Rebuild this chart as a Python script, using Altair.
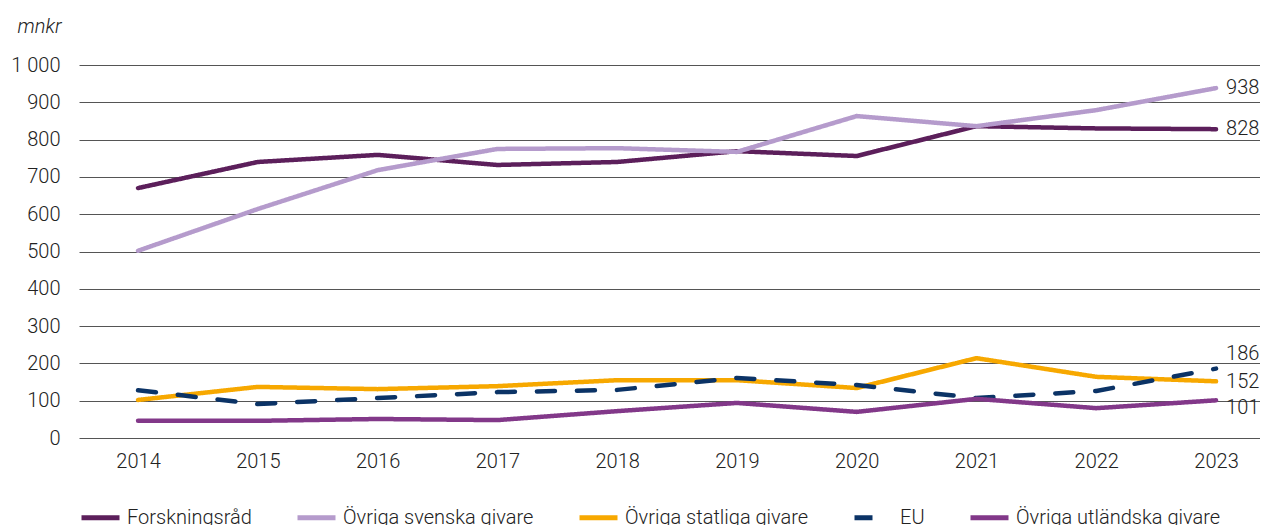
import altair as alt
import pandas as pd

years = [2014, 2015, 2016, 2017, 2018, 2019, 2020, 2021, 2022, 2023]
series_names = ["Forskningsråd", "Övriga svenska givare", "Övriga statliga givare", "EU", "Övriga utländska givare"]

forskningsrad = [670, 740, 759, 732, 740, 769, 756, 836, 830, 828]
ovriga_svenska = [502, 614, 718, 775, 777, 767, 863, 836, 879, 938]
ovriga_statliga = [102, 137, 131, 139, 155, 155, 134, 214, 164, 152]
eu = [128, 91, 107, 123, 129, 161, 142, 107, 126, 186]
ovriga_utlandska = [46, 46, 51, 48, 72, 94, 70, 105, 80, 101]

y_ticks = [0, 100, 200, 300, 400, 500, 600, 700, 800, 900, 1000]

colors = ["#5c1f5b", "#b59bcc", "#f7a800", "#0b3366", "#823889"]
dashes = [[1, 0], [1, 0], [1, 0], [18, 22], [1, 0]]
# vertical nudges (px) of the end-of-line value labels
end_label_dy = {"Forskningsråd": 0, "Övriga svenska givare": 0, "Övriga statliga givare": 1,
                "EU": -15, "Övriga utländska givare": 8}

values = [forskningsrad, ovriga_svenska, ovriga_statliga, eu, ovriga_utlandska]
rows = []
for name, vals in zip(series_names, values):
    for yr, v in zip(years, vals):
        rows.append({"year": yr, "value": v, "series": name})
df = pd.DataFrame(rows)
last = df[df["year"] == years[-1]]

FONT = "Roboto"
FW = 300
FS = 20
TXT = "#222222"

x_enc = alt.X("year:Q",
              scale=alt.Scale(domain=[2013.507, 2023.367], nice=False, zero=False),
              axis=alt.Axis(values=years, format="d", title=None, grid=False, domain=False,
                            ticks=False, labelPadding=13, labelFontSize=FS, labelColor=TXT,
                            labelFont=FONT, labelFontWeight=FW, labelOverlap=False))
y_enc = alt.Y("value:Q",
              scale=alt.Scale(domain=[0, 1000], nice=False),
              axis=alt.Axis(values=y_ticks, tickCount=11, title="mnkr", titleAngle=0, titleAlign="right",
                            titleBaseline="middle", titleX=-18, titleY=-39,
                            titleFontStyle="italic", titleFontWeight=FW, titleFontSize=FS,
                            titleColor=TXT, titleFont=FONT,
                            labelExpr="replace(format(datum.value, ','), ',', ' ')",
                            labelOverlap=False,
                            labelPadding=19, labelFontSize=FS, labelColor=TXT, labelFont=FONT,
                            labelFontWeight=FW,
                            grid=True, gridColor="#555555", gridWidth=1, domain=False, ticks=False))

lines = alt.Chart(df).mark_line(strokeWidth=4.5, strokeCap="round", strokeJoin="round").encode(
    x=x_enc,
    y=y_enc,
    color=alt.Color("series:N", sort=series_names,
                    scale=alt.Scale(domain=series_names, range=colors),
                    legend=alt.Legend(title=None, orient="none", legendX=0, legendY=431,
                                      direction="horizontal", symbolType="stroke",
                                      symbolSize=1444, symbolStrokeWidth=5,
                                      labelFontSize=FS, labelFont=FONT, labelColor=TXT,
                                      labelFontWeight=FW,
                                      labelOffset=5, columnPadding=35, labelLimit=400)),
    strokeDash=alt.StrokeDash("series:N", sort=series_names,
                              scale=alt.Scale(domain=series_names, range=dashes), legend=None),
    order=alt.Order("year:Q"),
)

label_layers = []
for name in series_names:
    label_layers.append(
        alt.Chart(last).transform_filter(alt.datum.series == name).mark_text(
            align="left", baseline="middle", dx=10, dy=end_label_dy[name], fontSize=FS,
            font=FONT, fontWeight=FW, color=TXT).encode(
            x="year:Q",
            y="value:Q",
            text=alt.Text("value:Q", format="d"),
        )
    )

chart = alt.layer(lines, *label_layers).properties(
    width=1181, height=373,
    padding={"left": 2, "top": 8, "right": 0, "bottom": 0},
).configure_view(stroke=None)

chart.save("out.html", embed_options={"renderer": "svg", "actions": False})
